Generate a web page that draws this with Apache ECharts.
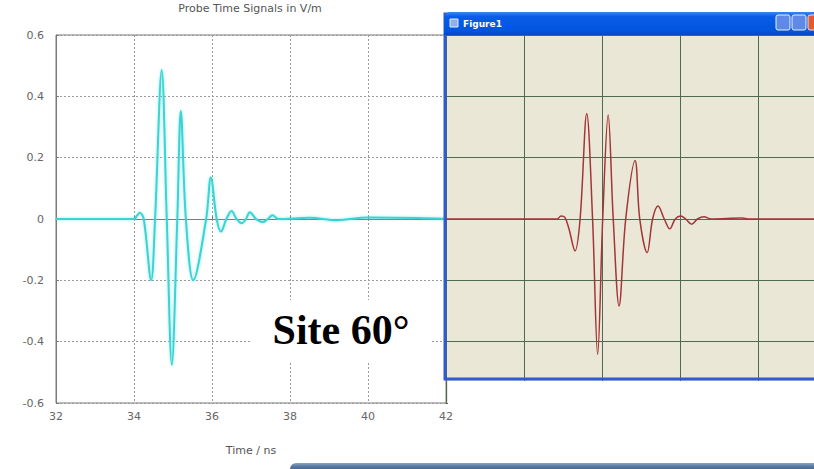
<!DOCTYPE html>
<html>
<head>
<meta charset="utf-8">
<script src="https://cdn.jsdelivr.net/npm/echarts@6/dist/echarts.min.js"></script>
<style>
html,body{margin:0;padding:0;background:#fff;}
#chart{width:814px;height:469px;}
</style>
</head>
<body>
<div id="chart"></div>
<script>
// ---- Data ----
const chartTitle = 'Probe Time Signals in V/m';
const xAxisTitle = 'Time / ns';
const annotation = 'Site 60°';
const windowTitle = 'Figure1';

// main probe signal (cyan), time in ns, field in V/m
const probeTime = [32, 34.0, 34.08, 34.15, 34.25, 34.44, 34.54, 34.71, 34.84, 34.97, 35.11, 35.2, 35.33, 35.52, 35.85, 35.97, 36.12, 36.23, 36.37, 36.5, 36.63, 36.76, 36.87, 36.97, 37.13, 37.3, 37.43, 37.55, 37.7, 38.5, 39.2, 40.0, 41.3, 42];
const probeField = [0, 0, 0.012, 0.02, 0, -0.2, 0, 0.486, 0, -0.476, 0, 0.352, 0, -0.2, 0, 0.135, 0, -0.041, 0, 0.026, 0, -0.014, 0, 0.022, 0, -0.01, 0, 0.012, 0, 0.004, -0.004, 0.005, 0.003, 0];

// overlay "Figure1" signal (dark red)
const figTime = [42, 44.85, 44.95, 45.05, 45.15, 45.31, 45.44, 45.61, 45.76, 45.89, 46.02, 46.16, 46.29, 46.44, 46.61, 46.85, 46.97, 47.16, 47.3, 47.44, 47.6, 47.74, 47.88, 48.02, 48.15, 48.3, 48.45, 48.62, 48.8, 49.6, 49.75, 51.44];
const figField = [0, 0, 0.01, 0.005, -0.03, -0.104, 0, 0.344, 0, -0.441, 0, 0.339, 0, -0.284, 0, 0.191, 0, -0.11, 0, 0.042, 0, -0.032, 0, 0.01, 0, -0.017, 0, 0.007, 0, 0.003, 0, 0];

const probeData = probeTime.map((t, i) => [t, probeField[i]]);
const figData = figTime.map((t, i) => [t, figField[i]]);

const chart = echarts.init(document.getElementById('chart'), null, {renderer: 'svg'});
const labelFont = {color: '#666', fontSize: 11, fontFamily: 'DejaVu Sans'};
const dotted = {show: true, lineStyle: {color: '#9a9a9a', type: [2, 2], width: 1}};
const winGrid = {show: true, lineStyle: {color: '#4e6a52', width: 1, type: 'solid'}};

chart.setOption({
  animation: false,
  backgroundColor: '#ffffff',
  grid: [
    {left: 56, top: 35, width: 390, height: 368, show: true, borderColor: '#7a7a7a', borderWidth: 1, backgroundColor: 'transparent'},
    {left: 446, top: 35, right: 0, height: 368, show: true, borderWidth: 0, backgroundColor: '#ebe7d7', z: 5}
  ],
  xAxis: [
    {type: 'value', gridIndex: 0, min: 32, max: 42, interval: 2,
     name: xAxisTitle, nameLocation: 'middle', nameGap: 42,
     nameTextStyle: {color: '#555', fontSize: 11, fontFamily: 'DejaVu Sans'},
     axisLine: {show: true, lineStyle: {color: '#7a7a7a'}},
     axisTick: {show: true, inside: true, length: 3, lineStyle: {color: '#7a7a7a'}},
     axisLabel: Object.assign({margin: 8}, labelFont),
     splitLine: dotted},
    {type: 'value', gridIndex: 1, min: 42, max: 51.44, interval: 2,
     axisLine: {show: false}, axisTick: {show: false}, axisLabel: {show: false},
     splitLine: winGrid, z: 5}
  ],
  yAxis: [
    {type: 'value', gridIndex: 0, min: -0.6, max: 0.6, interval: 0.2,
     axisLine: {show: true, lineStyle: {color: '#7a7a7a'}},
     axisTick: {show: true, inside: true, length: 3, lineStyle: {color: '#7a7a7a'}},
     axisLabel: Object.assign({margin: 12, formatter: v => (Math.abs(v) < 1e-9 ? '0' : +v.toFixed(1) + '')}, labelFont),
     splitLine: dotted},
    {type: 'value', gridIndex: 1, min: -0.6, max: 0.6, interval: 0.2,
     axisLine: {show: false}, axisTick: {show: false}, axisLabel: {show: false},
     splitLine: winGrid, z: 5}
  ],
  series: [
    {type: 'line', xAxisIndex: 0, yAxisIndex: 0, data: probeData, smooth: 0.35, showSymbol: false,
     lineStyle: {color: '#3cd3d3', width: 2, shadowBlur: 3, shadowColor: 'rgba(80,225,225,0.6)'}, z: 3},
    {type: 'line', xAxisIndex: 1, yAxisIndex: 1, data: figData, smooth: 0.35, showSymbol: false,
     lineStyle: {color: '#a23535', width: 1.5}, z: 6}
  ],
  graphic: [
    {type: 'text', x: 250, y: 8, z: 50, style: {text: chartTitle, fill: '#555', fontSize: 11, fontFamily: 'DejaVu Sans', textAlign: 'center', textVerticalAlign: 'middle'}},
    // white box behind annotation
    {type: 'rect', z: 40, shape: {x: 250, y: 300, width: 182, height: 62}, style: {fill: '#ffffff'}},
    {type: 'text', x: 341, y: 330, z: 41, style: {text: annotation, fill: '#000', fontSize: 42, fontWeight: 'bold', fontFamily: 'Liberation Serif', textAlign: 'center', textVerticalAlign: 'middle'}},
    // cover below the overlay window
    {type: 'rect', z: 60, shape: {x: 448, y: 381, width: 370, height: 23}, style: {fill: '#ffffff'}},
    // window frame
    {type: 'rect', z: 70, shape: {x: 445, y: 14, width: 380, height: 365}, style: {fill: 'none', stroke: '#2f5ad4', lineWidth: 3}},
    {type: 'rect', z: 71, shape: {x: 444, y: 12, width: 380, height: 23, r: [6, 6, 0, 0]},
     style: {fill: new echarts.graphic.LinearGradient(0, 0, 0, 1, [{offset: 0, color: '#3d86f5'}, {offset: 0.2, color: '#0a5ce6'}, {offset: 0.8, color: '#0056e0'}, {offset: 1, color: '#0048c8'}])}},
    {type: 'rect', z: 72, shape: {x: 450, y: 19, width: 8, height: 8}, style: {fill: '#8fb0e8', stroke: '#dfe9fb', lineWidth: 1}},
    {type: 'text', x: 463, y: 24, z: 72, style: {text: windowTitle, fill: '#ffffff', fontSize: 9, fontWeight: 'bold', fontFamily: 'DejaVu Sans', textVerticalAlign: 'middle'}},
    {type: 'rect', z: 72, shape: {x: 776, y: 15, width: 14, height: 15, r: 2}, style: {fill: '#5e8ae6', stroke: '#e8eefc', lineWidth: 1}},
    {type: 'rect', z: 72, shape: {x: 792, y: 15, width: 14, height: 15, r: 2}, style: {fill: '#5e8ae6', stroke: '#e8eefc', lineWidth: 1}},
    {type: 'rect', z: 72, shape: {x: 808, y: 15, width: 14, height: 15, r: 2}, style: {fill: '#e05a35', stroke: '#f3ddd4', lineWidth: 1}},
    // taskbar-like strip at bottom
    {type: 'rect', z: 72, shape: {x: 290, y: 463, width: 530, height: 8, r: [6, 0, 0, 0]},
     style: {fill: new echarts.graphic.LinearGradient(0, 0, 0, 1, [{offset: 0, color: '#8aa6c8'}, {offset: 0.4, color: '#5a7aa2'}, {offset: 1, color: '#3f5f88'}])}}
  ]
});
</script>
</body>
</html>
